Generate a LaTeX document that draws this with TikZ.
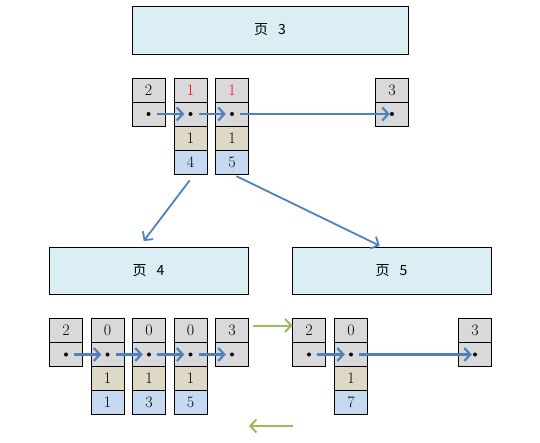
\documentclass[tikz,border=0pt]{standalone}
\usepackage{fontspec}
\newfontfamily\cjk{Noto Sans CJK SC}
\usetikzlibrary{positioning,arrows.meta}
\definecolor{cellgray}{HTML}{D9D9D9}
\definecolor{celltan}{HTML}{DDD9C4}
\definecolor{cellblue}{HTML}{C6D9F1}
\definecolor{pagefill}{HTML}{DAEEF3}
\definecolor{arrowblue}{HTML}{4F81BD}
\definecolor{arrowgreen}{HTML}{9BBB59}
\tikzstyle{pagebox}=[rectangle, draw=black, fill=pagefill, thick,
                    minimum width=199pt, minimum height=47pt, inner sep=0pt,
                    font=\cjk\fontsize{14}{16}\selectfont]
\tikzstyle{keycell}=[rectangle, draw=black, fill=cellgray, minimum width=33pt,
 minimum height=24pt, inner sep=0pt, outer sep=0pt, font=\fontsize{16}{18}\selectfont]
\tikzstyle{ptrcell}=[keycell]
\tikzstyle{cntcell}=[keycell, fill=celltan]
\tikzstyle{valcell}=[keycell, fill=cellblue]
\tikzstyle{dotnode}=[circle, fill=black, inner sep=0pt, minimum size=4pt]
\tikzstyle{parrow}=[-{Straight Barb[length=6pt,width=13pt]}, line width=2.2pt,
 arrowblue, shorten <=6pt, shorten >=4pt]
\tikzstyle{darrow}=[-{Straight Barb[length=6pt,width=13pt]}, line width=1.8pt, arrowblue]
\tikzstyle{garrow}=[-{Straight Barb[length=6pt,width=13pt]}, line width=2pt, arrowgreen]

\begin{document}
\begin{tikzpicture}[x=1pt,y=1pt]
\useasboundingbox (0,0) rectangle (540,-443);

% pages
\node (P3) [pagebox, minimum width=276pt, minimum height=48pt] at (270,-30) {页\hspace{0.7em}3};
\node (P4) [pagebox] at (148.5,-270.5) {页\hspace{0.7em}4};
\node (P5) [pagebox] at (391.5,-270.5) {页\hspace{0.7em}5};

% page 3 entries
\node (T1K) [keycell] at (148.5,-90) {2};
\node (T1P) [ptrcell,below=0pt of T1K] {};
\node (T2K) [keycell,right=9pt of T1K] {\textcolor{red}{1}};
\node (T2P) [ptrcell,below=0pt of T2K] {};
\node (T2C) [cntcell,below=0pt of T2P] {1};
\node (T2V) [valcell,below=0pt of T2C] {4};
\node (T3K) [keycell,right=8.5pt of T2K] {\textcolor{red!85!magenta}{1}};
\node (T3P) [ptrcell,below=0pt of T3K] {};
\node (T3C) [cntcell,below=0pt of T3P] {1};
\node (T3V) [valcell,below=0pt of T3C] {5};
\node (T4K) [keycell,right=127pt of T3K] {3};
\node (T4P) [ptrcell,below=0pt of T4K] {};
\node (T1D) [dotnode] at (T1P) {};
\node (T2D) [dotnode] at (T2P) {};
\node (T3D) [dotnode] at (T3P) {};
\node (T4D) [dotnode] at (T4P) {};
 \draw[parrow] (T1D) -- (T2D);
 \draw[parrow] (T2D) -- (T3D);
 \draw[parrow, shorten >=0pt] (T3D) -- (T4D);

% page 4 entries
\node (L1K) [keycell] at (66,-330.5) {2};
\node (L1P) [ptrcell,below=0pt of L1K] {};
\node (L2K) [keycell,right=8.5pt of L1K] {0};
\node (L2P) [ptrcell,below=0pt of L2K] {};
\node (L2C) [cntcell,below=0pt of L2P] {1};
\node (L2V) [valcell,below=0pt of L2C] {1};
\node (L3K) [keycell,right=8.5pt of L2K] {0};
\node (L3P) [ptrcell,below=0pt of L3K] {};
\node (L3C) [cntcell,below=0pt of L3P] {1};
\node (L3V) [valcell,below=0pt of L3C] {3};
\node (L4K) [keycell,right=8.5pt of L3K] {0};
\node (L4P) [ptrcell,below=0pt of L4K] {};
\node (L4C) [cntcell,below=0pt of L4P] {1};
\node (L4V) [valcell,below=0pt of L4C] {5};
\node (L5K) [keycell,right=8.5pt of L4K] {3};
\node (L5P) [ptrcell,below=0pt of L5K] {};
\node (L1D) [dotnode] at (L1P) {};
\node (L2D) [dotnode] at (L2P) {};
\node (L3D) [dotnode] at (L3P) {};
\node (L4D) [dotnode] at (L4P) {};
\node (L5D) [dotnode] at (L5P) {};
 \draw[parrow] (L1D) -- (L2D);
 \draw[parrow] (L2D) -- (L3D);
 \draw[parrow] (L3D) -- (L4D);
 \draw[parrow] (L4D) -- (L5D);

% page 5 entries
\node (R1K) [keycell] at (309,-330.5) {2};
\node (R1P) [ptrcell,below=0pt of R1K] {};
\node (R2K) [keycell,right=9pt of R1K] {0};
\node (R2P) [ptrcell,below=0pt of R2K] {};
\node (R2C) [cntcell,below=0pt of R2P] {1};
\node (R2V) [valcell,below=0pt of R2C] {7};
\node (R3K) [keycell,right=91pt of R2K] {3};
\node (R3P) [ptrcell,below=0pt of R3K] {};
\node (R1D) [dotnode] at (R1P) {};
\node (R2D) [dotnode] at (R2P) {};
\node (R3D) [dotnode] at (R3P) {};
 \draw[parrow] (R1D) -- (R2D);
 \draw[parrow, shorten >=1pt] (R2D) -- (R3D);

% down to the child pages
 \draw[darrow, shorten <=8pt, shorten >=7pt] ([xshift=4pt]T2V.south) -- ([xshift=-9pt]P4.north);
 \draw[darrow, shorten <=5pt, shorten >=2pt] (T3V.south) -- ([xshift=-10pt]P5.north);

% sibling links
 \draw[garrow, shorten <=4pt] ([yshift=5pt]L5K.east) -- ([yshift=5pt]R1K.west);
\coordinate (GA) at (293,-426);
\coordinate (GB) at (249,-426);
 \draw[garrow] (GA) -- (GB);

\end{tikzpicture}
\end{document}
